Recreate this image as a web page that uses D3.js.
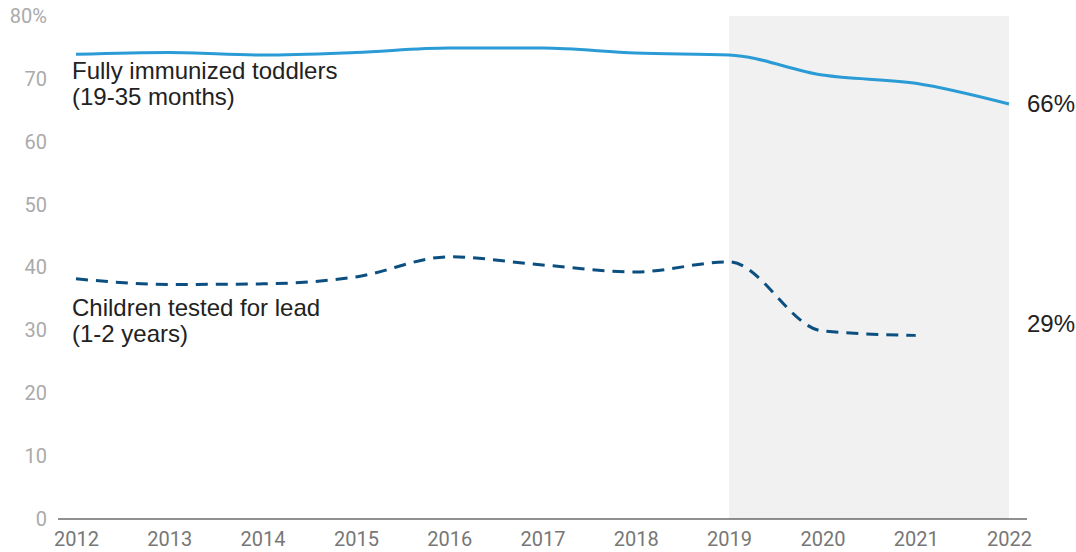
<!DOCTYPE html>
<html>
<head>
<meta charset="utf-8">
<script src="https://cdn.jsdelivr.net/npm/d3@7"></script>
<style>
  body { margin: 0; background: #fff; }
  text { font-family: Roboto, "Noto Sans", sans-serif; }
  .note { font-family: "Liberation Sans", Arial, sans-serif; }
</style>
</head>
<body>
<div id="chart"></div>
<script>
const years = [2012, 2013, 2014, 2015, 2016, 2017, 2018, 2019, 2020, 2021, 2022];
const immunized = [73.9, 74.2, 73.8, 74.2, 74.9, 74.9, 74.1, 73.8, 70.6, 69.3, 66.0];
const leadTested = [38.2, 37.3, 37.4, 38.5, 41.7, 40.4, 39.3, 40.9, 29.9, 29.2, null];
const yTicks = [0, 10, 20, 30, 40, 50, 60, 70, 80];
const shadeRange = [2019, 2022];

const width = 1076, height = 552;
const margin = {top: 16, right: 68, bottom: 33, left: 58};

const svg = d3.select("#chart")
  .append("svg")
  .attr("width", width)
  .attr("height", height);

const x = d3.scaleLinear()
  .domain([2012, 2022])
  .range([76, 1009]);

const y = d3.scaleLinear()
  .domain([0, 80])
  .range([height - margin.bottom, margin.top]);

// shaded period
svg.append("rect")
  .attr("x", x(shadeRange[0]))
  .attr("y", y(80))
  .attr("width", x(shadeRange[1]) - x(shadeRange[0]))
  .attr("height", y(0) - y(80))
  .attr("fill", "#f1f1f1");

// y axis labels
const yAxis = svg.append("g")
  .attr("transform", `translate(47,0)`)
  .call(d3.axisLeft(y).tickValues(yTicks).tickSize(0).tickPadding(0)
    .tickFormat(d => d === 80 ? "80%" : d));
yAxis.select(".domain").remove();
yAxis.selectAll("text")
  .attr("fill", "#aaaaaa")
  .style("font-size", "20px")
  .style("font-family", "Roboto, sans-serif");

// x axis
const xAxis = svg.append("g")
  .attr("transform", `translate(0,${y(0)})`)
  .call(d3.axisBottom(x).tickValues(years).tickSize(0).tickPadding(13)
    .tickFormat(d3.format("d")));
xAxis.select(".domain").remove();
xAxis.selectAll("text")
  .attr("fill", "#777777")
  .style("font-size", "20px")
  .style("font-family", "Roboto, sans-serif");

svg.append("line")
  .attr("x1", margin.left)
  .attr("x2", 1027)
  .attr("y1", y(0))
  .attr("y2", y(0))
  .attr("stroke", "#222")
  .attr("stroke-width", 1.2);

const line = d3.line()
  .defined(d => d[1] != null)
  .x(d => x(d[0]))
  .y(d => y(d[1]))
  .curve(d3.curveMonotoneX);

svg.append("path")
  .datum(years.map((yr, i) => [yr, immunized[i]]))
  .attr("d", line)
  .attr("fill", "none")
  .attr("stroke", "#2b9bd6")
  .attr("stroke-width", 3);

svg.append("path")
  .datum(years.map((yr, i) => [yr, leadTested[i]]))
  .attr("d", line)
  .attr("fill", "none")
  .attr("stroke", "#0b4f80")
  .attr("stroke-width", 3)
  .attr("stroke-dasharray", "12,8");

// series labels
function label(lines, x0, y0) {
  const t = svg.append("text")
    .attr("class", "note")
    .attr("x", x0)
    .attr("y", y0)
    .attr("fill", "#222")
    .style("font-size", "24px");
  lines.forEach((s, i) => {
    t.append("tspan")
      .attr("x", x0)
      .attr("dy", i === 0 ? 0 : 26)
      .text(s);
  });
}
label(["Fully immunized toddlers", "(19-35 months)"], 72, 79);
label(["Children tested for lead", "(1-2 years)"], 72, 316);

// end values
svg.append("text")
  .attr("class", "note")
  .attr("x", 1027)
  .attr("y", y(immunized[10]) + 8)
  .attr("fill", "#222")
  .style("font-size", "24px")
  .text("66%");

svg.append("text")
  .attr("class", "note")
  .attr("x", 1027)
  .attr("y", 332)
  .attr("fill", "#222")
  .style("font-size", "24px")
  .text("29%");
</script>
</body>
</html>
